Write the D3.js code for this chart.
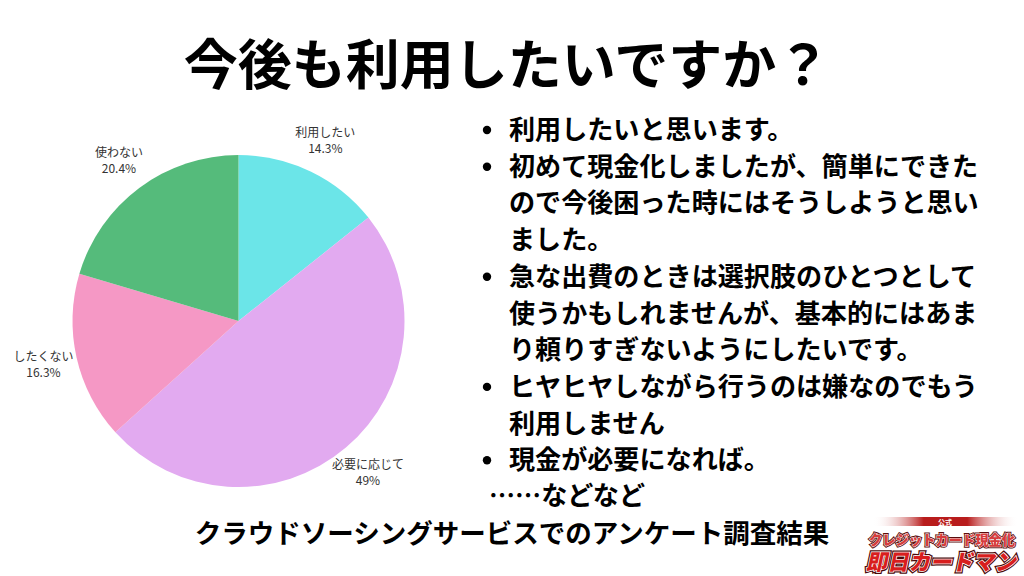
<!DOCTYPE html>
<html><head><meta charset="utf-8">
<script src="https://cdn.jsdelivr.net/npm/d3@7/dist/d3.min.js"></script>
<style>
html,body{margin:0;padding:0;background:#fff;}
svg{display:block;font-family:"Noto Sans CJK JP","Noto Sans",sans-serif;}
</style></head>
<body>
<svg id="c" width="1024" height="576"></svg>
<script>
const categories = ["利用したい", "必要に応じて", "したくない", "使わない"];
const values = [14.3, 49, 16.3, 20.4];
const valueLabels = ["14.3%", "49%", "16.3%", "20.4%"];
const colors = ["#6be5e8", "#e2aaf0", "#f598c5", "#55bb7b"];
const title = "今後も利用したいですか？";
const bullets = [
  ["利用したいと思います。"],
  ["初めて現金化しましたが、簡単にできた", "ので今後困った時にはそうしようと思い", "ました。"],
  ["急な出費のときは選択肢のひとつとして", "使うかもしれませんが、基本的にはあま", "り頼りすぎないようにしたいです。"],
  ["ヒヤヒヤしながら行うのは嫌なのでもう", "利用しません"],
  ["現金が必要になれば。"]
];
const trailer = "……などなど";
const footer = "クラウドソーシングサービスでのアンケート調査結果";

const svg = d3.select("#c");

svg.append("text").attr("x", 507).attr("y", 85).attr("text-anchor", "middle")
  .attr("font-size", 54).attr("font-weight", 700).attr("fill", "#000").text(title);

const cx = 238.5, cy = 321, r = 166, rl = 200;
const g = svg.append("g").attr("transform", `translate(${cx},${cy})`);
const pie = d3.pie().sort(null).value(d => d.v);
const data = pie(categories.map((c, i) => ({c, v: values[i], l: valueLabels[i], col: colors[i]})));
const arc = d3.arc().innerRadius(0).outerRadius(r);
g.selectAll("path.s").data(data).join("path").attr("class", "s")
  .attr("d", arc).attr("fill", d => d.data.col);
const labArc = d3.arc().innerRadius(rl).outerRadius(rl);
const lab = g.selectAll("text.l").data(data).join("text").attr("class", "l")
  .attr("transform", d => `translate(${labArc.centroid(d)})`)
  .attr("text-anchor", "middle").attr("font-size", 12).attr("fill", "#333");
lab.append("tspan").attr("x", 0).attr("y", -4).text(d => d.data.c);
lab.append("tspan").attr("x", 0).attr("y", 12).text(d => d.data.l);

// bullets
const lh = 36.7;
let y = 139;
const bg = svg.append("g");
bullets.forEach(b => {
  bg.append("circle").attr("cx", 487).attr("cy", y - 9).attr("r", 4.2).attr("fill", "#000");
  b.forEach(line => {
    bg.append("text").attr("x", 509).attr("y", y).attr("font-size", 26.1).attr("font-weight", 700)
      .attr("fill", "#000").text(line);
    y += lh;
  });
});
bg.append("text").attr("x", 489).attr("y", y - 1).attr("font-size", 26.1).attr("font-weight", 700)
  .attr("fill", "#000").text(trailer);

svg.append("text").attr("x", 512).attr("y", 543).attr("text-anchor", "middle")
  .attr("font-size", 26.5).attr("font-weight", 700).attr("fill", "#000").text(footer);

// logo approximation
const defs = svg.append("defs");
const lg = defs.append("linearGradient").attr("id", "band");
lg.append("stop").attr("offset", "0").attr("stop-color", "#fff").attr("stop-opacity", 0);
lg.append("stop").attr("offset", "0.35").attr("stop-color", "#b81c1c");
lg.append("stop").attr("offset", "0.65").attr("stop-color", "#b81c1c");
lg.append("stop").attr("offset", "1").attr("stop-color", "#fff").attr("stop-opacity", 0);
svg.append("rect").attr("x", 873).attr("y", 517).attr("width", 145).attr("height", 9).attr("fill", "url(#band)");
svg.append("text").attr("x", 945).attr("y", 525).attr("text-anchor", "middle").attr("font-size", 7)
  .attr("font-weight", 700).attr("fill", "#fff").text("公式");
const lgo = svg.append("g").attr("font-weight", 900);
[["#5a0d0d", 3], ["#fff", 1]].forEach(([st, sw]) => {
  lgo.append("text").attr("x", 869).attr("y", 545).attr("font-size", 14)
    .attr("textLength", 146).attr("lengthAdjust", "spacingAndGlyphs")
    .attr("fill", "#d63c3c").attr("stroke", st).attr("stroke-width", sw).attr("paint-order", "stroke")
    .text("クレジットカード現金化");
});
[["#4a0808", 4], ["#fff", 1.5]].forEach(([st, sw]) => {
  lgo.append("text").attr("x", 866 + 121).attr("y", 570).attr("font-size", 22)
    .attr("textLength", 150).attr("lengthAdjust", "spacingAndGlyphs")
    .attr("transform", "skewX(-12)")
    .attr("fill", "#d81e1e").attr("stroke", st).attr("stroke-width", sw).attr("paint-order", "stroke")
    .text("即日カードマン");
});
</script>
</body></html>
